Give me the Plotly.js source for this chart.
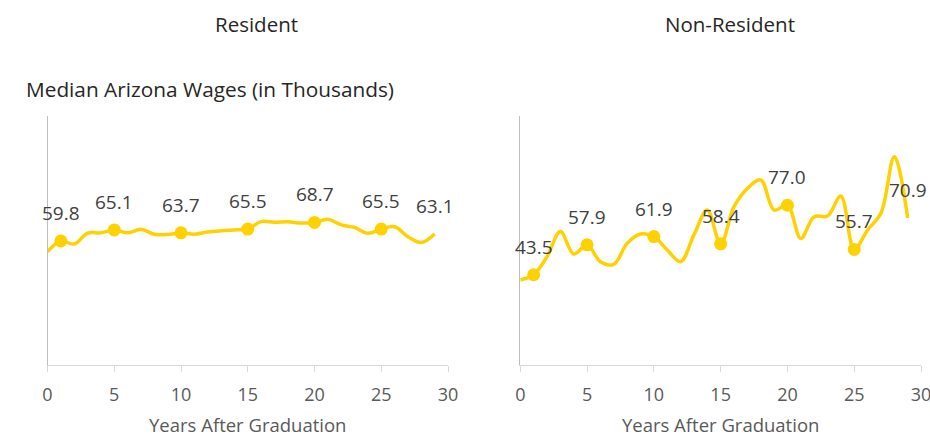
<!DOCTYPE html>
<html>
<head>
<meta charset="utf-8">
<script src="https://cdn.plot.ly/plotly-3.0.1.min.js"></script>
<style>html,body{margin:0;padding:0;background:#fff;}#chart{width:930px;height:437px;}</style>
</head>
<body>
<div id="chart"></div>
<script>
const years = [0,1,2,3,4,5,6,7,8,9,10,11,12,13,14,15,16,17,18,19,20,21,22,23,24,25,26,27,28,29];
const residentWages = [54.6,59.8,58.3,63.5,63.7,65.1,63.7,65.4,63.0,62.9,63.7,63.0,64.1,64.7,65.1,65.5,69.1,68.8,69.0,68.4,68.7,70.2,67.5,66.3,63.5,65.5,66.6,61.8,59.0,63.1];
const nonResidentWages = [41.0,43.5,52.2,64.3,53.5,57.9,49.8,48.5,58.6,63.1,61.9,55.4,49.8,62.7,74.7,58.4,76.3,85.1,89.2,74.7,77.0,61.0,71.5,71.8,81.4,55.7,65.1,73.1,100.4,70.9];
const markerYears = [1,5,10,15,20,25];
const labelYears = [1,5,10,15,20,25,29];
const panelTitles = ["Resident","Non-Resident"];
const chartTitle = "Median Arizona Wages (in Thousands)";
const xTitle = "Years After Graduation";

const gold = "#FFD100";
const font = "Open Sans, sans-serif";

function valAt(arr, yr){ return arr[years.indexOf(yr)]; }

const traces = [];
const annotations = [];
[[residentWages,"x","y"],[nonResidentWages,"x2","y2"]].forEach(([vals,xa,ya])=>{
  traces.push({x:years, y:vals, xaxis:xa, yaxis:ya, type:"scatter", mode:"lines",
    line:{color:gold, width:3.5, shape:"spline", smoothing:1}, hoverinfo:"skip"});
  traces.push({x:markerYears, y:markerYears.map(yr=>valAt(vals,yr)), xaxis:xa, yaxis:ya,
    type:"scatter", mode:"markers", marker:{color:gold, size:13}, hoverinfo:"skip"});
  labelYears.forEach(yr=>{
    annotations.push({x:yr, y:valAt(vals,yr), xref:xa, yref:ya, text:valAt(vals,yr).toFixed(1),
      showarrow:false, yshift:28, font:{family:font, size:19, color:"#404040"}});
  });
});

annotations.push({x:256/930, y:1-24/437, xref:"paper", yref:"paper", text:panelTitles[0], showarrow:false,
  xanchor:"center", yanchor:"middle", font:{family:font, size:20.5, color:"#262626"}});
annotations.push({x:730/930, y:1-24/437, xref:"paper", yref:"paper", text:panelTitles[1], showarrow:false,
  xanchor:"center", yanchor:"middle", font:{family:font, size:20.5, color:"#262626"}});
annotations.push({x:24/930, y:1-89/437, xref:"paper", yref:"paper", text:chartTitle, showarrow:false,
  xanchor:"left", yanchor:"middle", font:{family:font, size:20.8, color:"#262626"}});

const xaxisBase = {range:[0,30], tickvals:[0,5,10,15,20,25,30], ticks:"outside", ticklen:6, tickcolor:"#d9d9d9",
  showline:true, linecolor:"#d9d9d9", linewidth:1, showgrid:false, zeroline:false, fixedrange:true,
  ticklabelstandoff:7, ticklabeloverflow:"allow",
  tickfont:{family:font, size:18, color:"#595959"},
  title:{text:xTitle, font:{family:font, size:18.5, color:"#595959"}, standoff:16}};
const yaxisBase = {range:[0,120], showline:true, linecolor:"#bfbfbf", linewidth:1, showgrid:false, zeroline:false,
  showticklabels:false, ticks:"", domain:[1-365/437, 1-116/437]};

const layout = {
  width:930, height:437, margin:{l:0,r:0,t:0,b:0}, paper_bgcolor:"#fff", plot_bgcolor:"#fff",
  showlegend:false,
  xaxis:Object.assign({}, xaxisBase, {domain:[47.5/930, 448/930], anchor:"y"}),
  yaxis:Object.assign({}, yaxisBase, {anchor:"x"}),
  xaxis2:Object.assign({}, xaxisBase, {domain:[520.3/930, 921/930], anchor:"y2"}),
  yaxis2:Object.assign({}, yaxisBase, {anchor:"x2"}),
  annotations:annotations
};
Plotly.newPlot("chart", traces, layout, {staticPlot:true});
</script>
</body>
</html>
